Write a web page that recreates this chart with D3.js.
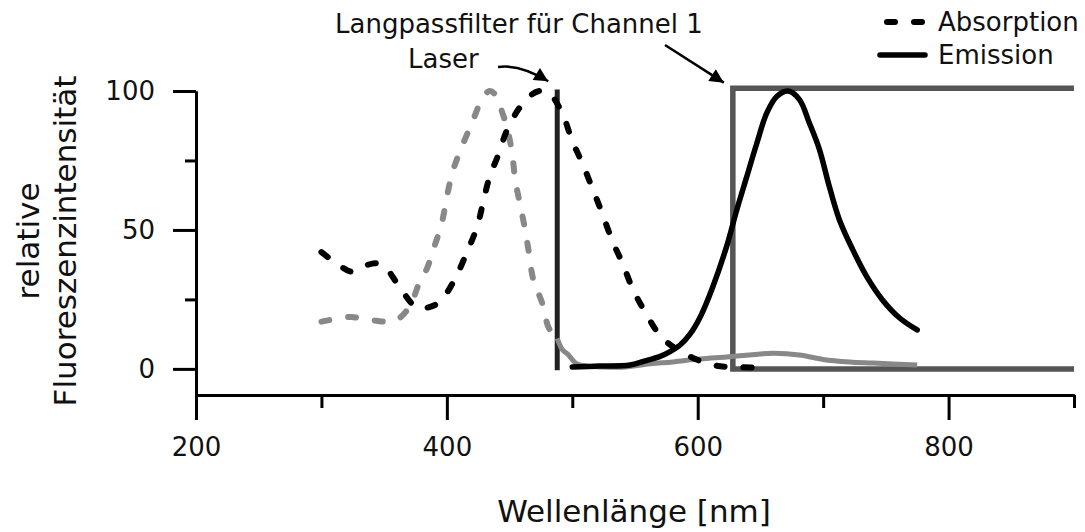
<!DOCTYPE html>
<html>
<head>
<meta charset="utf-8">
<script src="https://cdn.jsdelivr.net/npm/d3@7"></script>
<style>
  body { margin: 0; background: #fff; }
  svg { display: block; font-family: "DejaVu Sans", Verdana, sans-serif; }
</style>
</head>
<body>
<svg id="chart" width="1085" height="532"></svg>
<script>
// Werte: [Wellenlänge nm, relative Intensität]
const absorption = [[300,42],[312,38],[324,35],[334,37],[344,38],[352,36],[360,31],[376,22],[384,22],[394,24],
  [406,32],[416,42],[424,51],[429,60],[434,69],[441,77],[448,86],[458,94],[467,98.5],[474,100],[482,99],
  [492,92],[500,82],[508,74],[516,65],[523,57],[532,46],[540,38],[548,29],[558,20.5],[571,11.5],[588,5.8],
  [612,1.4],[634,0.6],[652,0.5]];
const emission = [[500,0.7],[522,1],[546,1.4],[559,3],[570,4.5],[578,6.2],[586,8.6],[594,12.6],[602,18.7],
  [612,29.5],[623,44],[631,57],[639,69],[647,81],[655,92],[663,98],[672,100],[681,97],[689,88.5],[697,79],
  [705,65.5],[713,53.6],[723.5,43],[735,33],[747,25],[761,18.3],[775,14]];
const anregungGrau = [[300,17],[312,18],[324,18.7],[334,17.8],[344,17.3],[352,17],[360,17.6],[368,21],[373,25],
  [378,31],[384,36],[390,44],[396,52.5],[400,62],[405,71.5],[412,80],[420,88.5],[428,97],[434,100],[438,99],
  [442,95],[448,86.7],[452,77.7],[454.5,68],[458,60],[462,51],[465,43],[469,32],[476,23.7],[481,15],[485,12.5],[488,11]];
const emissionGrau = [[488,11],[492,7],[497,5],[503,2],[512,1],[522,0.7],[540,0.6],[562,1.8],[580,2.5],
  [602,3.6],[623,4.3],[641,5],[660,5.6],[681,5],[700,3.4],[721,2.5],[740,2.1],[775,1.4]];

const laserNm = 488;
const filterNm = 628;
const filterOben = 101;

const xMajor = [200, 400, 600, 800];
const xMinor = [300, 500, 700, 900];
const yMajor = [0, 50, 100];
const yMinor = [25, 75];
const legende = ["Absorption", "Emission"];

const svg = d3.select("#chart");

const x = d3.scaleLinear().domain([200, 900]).range([196, 1074]);
const y = d3.scaleLinear().domain([-9.4, 100]).range([395, 91]);

const line = d3.line()
  .x(d => x(d[0]))
  .y(d => y(d[1]))
  .curve(d3.curveCatmullRom.alpha(0.5));

// Achsen
function styleAxis(g) {
  g.selectAll("path, line").attr("stroke", "#000").attr("stroke-width", 3);
  g.selectAll("text").attr("fill", "#111").attr("font-size", 26)
    .attr("font-family", "DejaVu Sans, Verdana, sans-serif");
}

svg.append("g")
  .attr("transform", "translate(0,395)")
  .call(d3.axisBottom(x).tickValues(xMajor).tickSize(25).tickSizeOuter(0).tickPadding(18).tickFormat(d3.format("d")))
  .call(styleAxis);
svg.append("g")
  .attr("transform", "translate(0,395)")
  .call(d3.axisBottom(x).tickValues(xMinor).tickSize(13).tickSizeOuter(0).tickFormat(""))
  .call(styleAxis);

svg.append("g")
  .attr("transform", "translate(196,0)")
  .call(d3.axisLeft(y).tickValues(yMajor).tickSize(23).tickSizeOuter(0).tickPadding(18))
  .call(styleAxis);
svg.append("g")
  .attr("transform", "translate(196,0)")
  .call(d3.axisLeft(y).tickValues(yMinor).tickSize(11).tickSizeOuter(0).tickFormat(""))
  .call(styleAxis);

// Achsentitel
svg.append("text")
  .attr("x", 634).attr("y", 522)
  .attr("text-anchor", "middle")
  .attr("font-size", 31).attr("fill", "#111")
  .text("Wellenlänge [nm]");

const yTitel = svg.append("g").attr("transform", "translate(0,241) rotate(-90)");
yTitel.append("text").attr("x", 0).attr("y", 39)
  .attr("text-anchor", "middle").attr("font-size", 31).attr("fill", "#111")
  .text("relative");
yTitel.append("text").attr("x", 0).attr("y", 76)
  .attr("text-anchor", "middle").attr("font-size", 31).attr("fill", "#111")
  .text("Fluoreszenzintensität");

// Langpassfilter
svg.append("path")
  .attr("d", d3.line()([[x(900), y(filterOben)], [x(filterNm), y(filterOben)], [x(filterNm), y(0)], [x(900), y(0)]]))
  .attr("fill", "none")
  .attr("stroke", "#555")
  .attr("stroke-width", 5.5);

// Laser
svg.append("line")
  .attr("x1", x(laserNm)).attr("x2", x(laserNm))
  .attr("y1", y(100.5)).attr("y2", y(-0.5))
  .attr("stroke", "#222")
  .attr("stroke-width", 5);

// Kurven
svg.append("path")
  .datum(anregungGrau)
  .attr("d", line)
  .attr("fill", "none")
  .attr("stroke", "#888")
  .attr("stroke-width", 6)
  .attr("stroke-linecap", "round")
  .attr("stroke-dasharray", "8 19");

svg.append("path")
  .datum(emissionGrau)
  .attr("d", line)
  .attr("fill", "none")
  .attr("stroke", "#888")
  .attr("stroke-width", 5)
  .attr("stroke-linejoin", "round");

svg.append("path")
  .datum(absorption)
  .attr("d", line)
  .attr("fill", "none")
  .attr("stroke", "#000")
  .attr("stroke-width", 6)
  .attr("stroke-linecap", "round")
  .attr("stroke-dasharray", "8 19");

svg.append("path")
  .datum(emission)
  .attr("d", line)
  .attr("fill", "none")
  .attr("stroke", "#000")
  .attr("stroke-width", 5.5)
  .attr("stroke-linecap", "round")
  .attr("stroke-linejoin", "round");

// Beschriftungen mit Pfeilen
svg.append("defs").append("marker")
  .attr("id", "pfeil")
  .attr("viewBox", "0 0 10 10")
  .attr("refX", 10).attr("refY", 5)
  .attr("markerWidth", 22).attr("markerHeight", 14)
  .attr("markerUnits", "userSpaceOnUse")
  .attr("orient", "auto")
  .append("path")
  .attr("d", "M0,0 L10,5 L0,10 Z")
  .attr("fill", "#000");

svg.append("text")
  .attr("x", 335).attr("y", 33)
  .attr("font-size", 26).attr("fill", "#111")
  .text("Langpassfilter für Channel 1");

svg.append("text")
  .attr("x", 408).attr("y", 68)
  .attr("font-size", 26).attr("fill", "#111")
  .text("Laser");

const laserSpitze = [x(laserNm) - 9, y(103.5)];
svg.append("path")
  .attr("d", `M498,67 Q520,64 ${laserSpitze[0]},${laserSpitze[1]}`)
  .attr("fill", "none")
  .attr("stroke", "#000")
  .attr("stroke-width", 2.5)
  .attr("marker-end", "url(#pfeil)");

const filterSpitze = [x(filterNm) - 9, y(filterOben + 2)];
svg.append("line")
  .attr("x1", 665).attr("y1", 45)
  .attr("x2", filterSpitze[0]).attr("y2", filterSpitze[1])
  .attr("stroke", "#000")
  .attr("stroke-width", 2.5)
  .attr("marker-end", "url(#pfeil)");

// Legende
const leg = svg.append("g")
  .selectAll("g")
  .data(legende)
  .join("g")
  .attr("transform", (d, i) => `translate(884, ${22 + i * 33})`);

leg.append("line")
  .attr("x1", (d, i) => i === 0 ? 3 : -4)
  .attr("x2", 41)
  .attr("stroke", "#000")
  .attr("stroke-width", (d, i) => i === 0 ? 6 : 5.5)
  .attr("stroke-linecap", "round")
  .attr("stroke-dasharray", (d, i) => i === 0 ? "8 19" : null);

leg.append("text")
  .attr("x", 54)
  .attr("dy", "0.35em")
  .attr("font-size", 26)
  .attr("fill", "#111")
  .text(d => d);
</script>
</body>
</html>
